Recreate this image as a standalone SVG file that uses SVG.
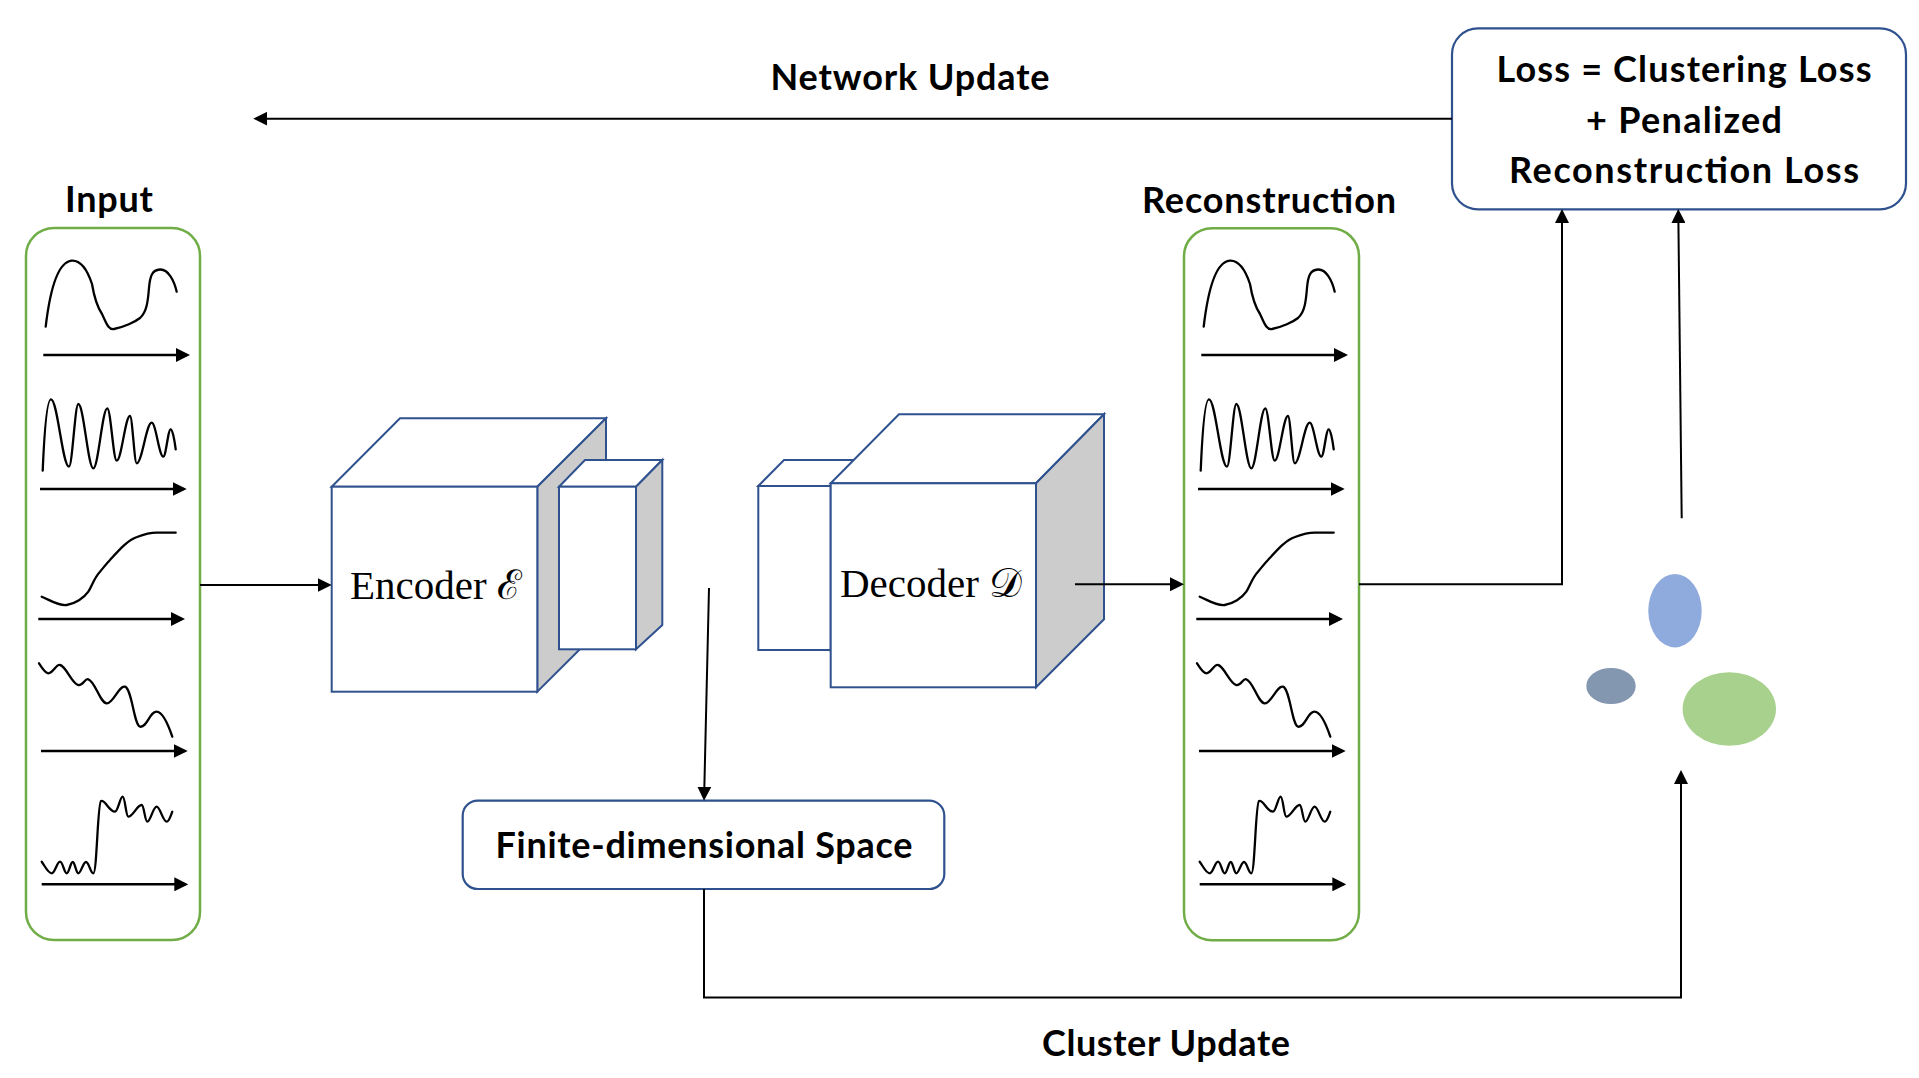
<svg xmlns="http://www.w3.org/2000/svg" width="1919" height="1078" viewBox="0 0 1919 1078">
<style>
.lbl{font-family:Lato,"Open Sans","Liberation Sans",sans-serif;font-weight:700;font-size:36px;fill:#000;text-anchor:middle}
.serif{font-family:"Liberation Serif","DejaVu Serif",serif;font-size:41px;fill:#000}
.col{fill:#fff;stroke:#70AD47;stroke-width:2.5}
.wave{fill:none;stroke:#000;stroke-width:2.3;stroke-linecap:round;stroke-linejoin:round}
.axis{fill:none;stroke:#000;stroke-width:2.6}
.conn{fill:none;stroke:#000;stroke-width:2}
.face{fill:#fff;stroke:#2F528F;stroke-width:2;stroke-linejoin:miter}
.side{fill:#CCCCCC;stroke:#2F528F;stroke-width:2;stroke-linejoin:miter}
.box{fill:#fff;stroke:#2F528F;stroke-width:2.2}
</style>
<defs>
<marker id="ah" markerUnits="userSpaceOnUse" markerWidth="14" markerHeight="14" viewBox="0 0 14 14" refX="11" refY="7" orient="auto"><path d="M0,0 L14,7 L0,14 z" fill="#000"/></marker>
<g id="series">
<path class="wave" d="M45.7,326.7 C50,290 58,262 71.7,260.7 C82,260 88,272 92,284 C94,296 96,305 102,314 C106,322 108,330 114,329 C124,327 135,322 140,318 C147,312 148,300 149,288 C150,276 152,270 160,269.5 C168,269 174,280 176.7,291.7"/>
<line class="axis" x1="43.3" y1="355" x2="187" y2="355" marker-end="url(#ah)"/>
<path class="wave" d="M42.7,470.7 C44,440 46.5,399.3 51,399.3 C57.5,399.3 62.5,466.7 69,466.7 C72.3,466.7 75,404 78.3,404 C83.7,404 88,468.3 93.3,468.3 C98.3,468.3 102.3,408.3 107.3,408.3 C110.7,408.3 113.3,460.7 116.7,460.7 C121.5,460.7 125.2,416 130,416 C132.4,416 134.3,463.3 136.7,463.3 C142,463.3 146.3,422.7 151.7,422.7 C155.9,422.7 159.1,456.7 163.3,456.7 C166,456.7 168,429.3 170.7,429.3 C172.5,429.3 174.5,440 175.7,449.3"/>
<line class="axis" x1="40" y1="489" x2="183.7" y2="489" marker-end="url(#ah)"/>
<path class="wave" d="M41.7,596.7 C50,600 58,606 66.7,605 C75,604 84,598 88.3,591.7 C92,586 94,578 100,571.7 C104,567 107,563 110,560 C120,549 128,540 137,537 C145,534 150,532.7 156.7,532.7 L175.7,532.7"/>
<line class="axis" x1="38.3" y1="619" x2="182" y2="619" marker-end="url(#ah)"/>
<path class="wave" d="M39,663.3 C42,668 45,673 48.3,673.3 C53,673.5 56,664 60,665 C66,666 72,684 78.3,685 C83,686 85,678 88.3,679.3 C95,681 100,703 106.7,703.3 C113,704 119,685 125,686.7 C132,689 134,725 140,726.7 C147,728 150,711 156.7,711.7 C163,712 169,727 172.3,736.7"/>
<line class="axis" x1="41" y1="751" x2="184.7" y2="751" marker-end="url(#ah)"/>
<path class="wave" d="M41.7,861.7 C45,866 48,873.3 51.7,873.3 C55,873.3 57,861.7 60,861.7 C63,861.7 64,873.3 66.7,873.3 C69,873.3 70.5,862 72.7,862 C75,862 76,873.3 78.3,873.3 C81,873.3 83,862 86,862 C89,862 90.5,873.3 93.3,873.3 C97,873.3 97.5,803 101,801 C105,799 109,811.7 115,811.7 C118,811.7 120,796.7 122.7,796.7 C125,796.7 126,816.7 128.3,816.7 C133,816.7 137,805 141.7,805 C144,805 145,821.7 147.3,821.7 C150.5,821.7 153,806.7 156.7,806.7 C160,806.7 163,821.7 166.7,821.7 C169,821.7 171,815 172.3,811.7"/>
<line class="axis" x1="41.7" y1="884.3" x2="185.3" y2="884.3" marker-end="url(#ah)"/>
</g>
</defs>
<rect width="1919" height="1078" fill="#fff"/>

<g id="input">
<rect class="col" x="26" y="228" width="174" height="712" rx="28"/>
<use href="#series"/>
<text class="lbl" x="109" y="212" textLength="88">Input</text>
</g>

<g id="reconstruction">
<rect class="col" x="1184" y="228.3" width="175" height="712" rx="28"/>
<use href="#series" transform="translate(1158,0)"/>
<text class="lbl" x="1269" y="213" textLength="254">Reconstruction</text>
</g>

<g id="encoder">
<polygon class="face" points="331.7,486.7 400,418.3 606,418.3 537.3,486.7"/>
<polygon class="side" points="537.3,486.7 606,418.3 606,623.3 537.3,691.7"/>
<rect class="face" x="331.7" y="486.7" width="205.6" height="205"/>
<polygon class="face" points="559,486.7 585,460 662.3,460 636,486.7"/>
<polygon class="side" points="636,486.7 662.3,460 662.3,625 636,649.3"/>
<rect class="face" x="559" y="486.7" width="77" height="162.6"/>
<text class="serif" x="350" y="599.3">Encoder ℰ</text>
</g>

<g id="decoder">
<polygon class="face" points="758.3,486 784,460 856,460 830.7,486"/>
<polygon class="side" points="830.7,486 856,460 856,624 830.7,650"/>
<rect class="face" x="758.3" y="486" width="72.4" height="164"/>
<polygon class="face" points="830.7,483.3 899,414.3 1104,414.3 1036,483.3"/>
<polygon class="side" points="1036,483.3 1104,414.3 1104,619.3 1036,687.3"/>
<rect class="face" x="830.7" y="483.3" width="205.3" height="204"/>
<text class="serif" x="840" y="597.3">Decoder 𝒟</text>
</g>

<g id="finite-space">
<rect class="box" x="462.7" y="800.7" width="481.6" height="88.3" rx="15"/>
<text class="lbl" x="704" y="858.3" textLength="417">Finite-dimensional Space</text>
</g>

<g id="loss">
<rect class="box" x="1452" y="28.3" width="454" height="181" rx="26"/>
<text class="lbl" x="1684" y="81.7" textLength="375">Loss = Clustering Loss</text>
<text class="lbl" x="1684" y="132.7" textLength="196">+ Penalized</text>
<text class="lbl" x="1684" y="183.3" textLength="350">Reconstruction Loss</text>
</g>

<g id="clusters">
<ellipse cx="1675" cy="610.7" rx="26.7" ry="36.7" fill="#8FAADC"/>
<ellipse cx="1611" cy="686" rx="24.7" ry="18" fill="#8497B0"/>
<ellipse cx="1729.3" cy="709" rx="46.7" ry="36.7" fill="#A9D18E"/>
</g>

<g id="connectors">
<path class="conn" d="M1452,118.7 H256.3" marker-end="url(#ah)"/>
<path class="conn" d="M200,585 H328.7" marker-end="url(#ah)"/>
<path class="conn" d="M709,588 L704.1,797.7" marker-end="url(#ah)"/>
<path class="conn" d="M1075,584.3 H1181" marker-end="url(#ah)"/>
<path class="conn" d="M1359,584.3 H1562 V212" marker-end="url(#ah)"/>
<path class="conn" d="M1681.7,518.3 L1678.3,212" marker-end="url(#ah)"/>
<path class="conn" d="M704,889 V997.5 H1681 V773" marker-end="url(#ah)"/>
</g>

<g id="labels">
<text class="lbl" x="910" y="90" textLength="279">Network Update</text>
<text class="lbl" x="1166" y="1056" textLength="248">Cluster Update</text>
</g>
</svg>
